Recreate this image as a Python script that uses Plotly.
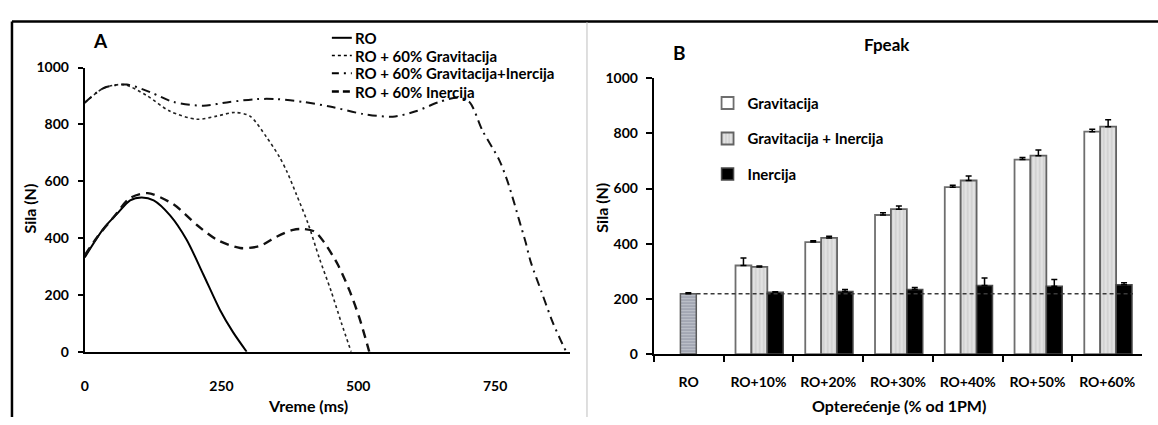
import plotly.graph_objects as go

W, H = 1158, 425

# ---------------- Panel A data (time curves) ----------------
ro_t = [0, 35, 59, 83, 104, 126, 156, 186, 217, 247, 271, 296]
ro_f = [332, 435, 485, 533, 543, 533, 480, 395, 271, 148, 69, 0]

grav_t = [0, 35, 72, 113, 156, 205, 241, 274, 302, 332, 356, 370, 387, 408, 429, 450, 469, 487]
grav_f = [876, 928, 940, 902, 846, 818, 829, 842, 829, 756, 685, 632, 553, 452, 328, 215, 102, 0]

gi_t = [0, 35, 77, 120, 162, 217, 265, 314, 350, 399, 448, 508, 563, 605, 648, 681, 703, 727,
        757, 772, 784, 794, 806, 815, 835, 855, 870, 880]
gi_f = [876, 928, 940, 913, 879, 866, 879, 889, 889, 879, 863, 837, 827, 846, 879, 894, 879, 778,
        677, 604, 530, 463, 384, 317, 210, 105, 40, 0]

in_t = [0, 22, 53, 83, 115, 162, 205, 241, 284, 320, 350, 381, 399, 420, 438, 463, 484, 502, 520]
in_f = [339, 401, 474, 541, 558, 519, 446, 395, 365, 372, 404, 429, 432, 423, 384, 305, 215, 119, 0]

curve_names = ["RO", "RO + 60% Gravitacija", "RO + 60% Gravitacija+Inercija", "RO + 60% Inercija"]
x_ticks_a = [0, 250, 500, 750]

# ---------------- Panel B data (Fpeak bars) ----------------
cats = ["RO", "RO+10%", "RO+20%", "RO+30%", "RO+40%", "RO+50%", "RO+60%"]
ro_val = [219]
ro_err = [3]
grav_val = [321, 406, 504, 605, 705, 806]
grav_err = [27, 5, 8, 7, 7, 9]
gi_val = [316, 421, 525, 629, 719, 824]
gi_err = [3, 6, 12, 16, 21, 25]
in_val = [224, 227, 234, 249, 246, 251]
in_err = [2, 7, 7, 27, 24, 8]
bar_names = ["Gravitacija", "Gravitacija + Inercija", "Inercija"]

FONT = "Lato"


def px(x):
    return x / W


def py(y):
    return 1 - y / H


fig = go.Figure()

# Panel A lines
line_styles = [
    dict(color="black", width=2, dash="solid"),
    dict(color="#222222", width=1.6, dash="dot"),
    dict(color="#111111", width=2, dash="9px,5px,2px,5px"),
    dict(color="#111111", width=2.4, dash="9px,6px"),
]
for t, f, name, ls in zip([ro_t, grav_t, gi_t, in_t], [ro_f, grav_f, gi_f, in_f], curve_names, line_styles):
    fig.add_trace(go.Scatter(x=t, y=f, mode="lines", name=name, showlegend=False,
                             line=dict(shape="spline", smoothing=0.8, **ls),
                             xaxis="x", yaxis="y"))

# Panel A legend (drawn compactly, as in the original)
leg_y = [30, 48.5, 67, 86]
leg_dash = ["solid", "dot", "7px,5px,2px,5px", "7px,4px"]
leg_w = [2, 1.6, 2, 2.4]
for name, yy, dsh, lw in zip(curve_names, leg_y, leg_dash, leg_w):
    fig.add_shape(type="line", xref="paper", yref="paper", x0=px(329), x1=px(349), y0=py(yy), y1=py(yy),
                  line=dict(color="black", width=lw, dash=dsh))
    fig.add_annotation(text=name, x=px(350), y=py(yy), xref="paper", yref="paper", showarrow=False,
                       xanchor="left", yanchor="middle",
                       font=dict(family=FONT, size=15, color="black", weight="bold"))

# Panel B bars
BW = 0.228
fig.add_trace(go.Bar(x=cats[:1], y=ro_val, width=BW, offset=-0.118, name="RO", showlegend=False,
                     marker=dict(color="#a3a7b3", line=dict(color="#5a5a5a", width=1.5),
                                 pattern=dict(shape="-", fgcolor="#d8dbe2", size=3, solidity=0.35)),
                     error_y=dict(type="data", array=ro_err, arrayminus=[0] * len(ro_err), symmetric=False,
                                  color="black", thickness=1.5, width=3),
                     xaxis="x2", yaxis="y2"))
bar_specs = [
    (grav_val, grav_err, -0.328, dict(color="white", line=dict(color="#6e6e6e", width=1.8))),
    (gi_val, gi_err, -0.100, dict(color="#e2e2e2", line=dict(color="#626262", width=1.8),
                                  pattern=dict(shape="|", fgcolor="#b0b0b0", size=4, solidity=0.3))),
    (in_val, in_err, 0.128, dict(color="black", line=dict(color="#4a4a4a", width=1.5))),
]
for i, ((vals, errs, off, mk), name) in enumerate(zip(bar_specs, bar_names)):
    fig.add_trace(go.Bar(x=cats[1:], y=vals, width=BW, offset=off, name=name, marker=mk,
                         legendgroup="g%d" % i,
                         error_y=dict(type="data", array=errs, arrayminus=[0] * len(errs), symmetric=False,
                                      color="black", thickness=1.5, width=3),
                         xaxis="x2", yaxis="y2", legend="legend2"))

tickfont = dict(family=FONT, size=14, color="black", weight="bold")

fig.update_layout(
    width=W, height=H,
    margin=dict(l=0, r=0, t=0, b=0),
    paper_bgcolor="white", plot_bgcolor="white",
    font=dict(family=FONT, size=14, color="black", weight="bold"),
    barmode="overlay",
    xaxis=dict(domain=[px(81), px(568)], range=[0, 887], tickvals=x_ticks_a, showline=True, linecolor="black",
               linewidth=2, ticks="", showgrid=False, zeroline=False, tickfont=tickfont, ticklabelstandoff=20,
               anchor="y"),
    yaxis=dict(domain=[py(357), py(61)], range=[0, 1000], dtick=200, showline=True, linecolor="black",
               linewidth=2, ticks="outside", ticklen=5, tickwidth=1.5, tickcolor="black", showgrid=False,
               zeroline=False, tickfont=tickfont, ticklabelstandoff=6, anchor="x"),
    xaxis2=dict(domain=[px(652), px(1142)], type="category", categoryorder="array", categoryarray=cats,
                range=[-0.5, 6.5], showline=True, linecolor="black", linewidth=2, ticks="outside",
                tickson="boundaries", ticklen=6, tickwidth=1.5, tickcolor="black", showgrid=False,
                zeroline=False, tickfont=tickfont, ticklabelstandoff=14, anchor="y2"),
    yaxis2=dict(domain=[py(359.5), py(72)], range=[0, 1000], dtick=200, showline=True, linecolor="black",
                linewidth=2, ticks="outside", ticklen=6, tickwidth=1.5, tickcolor="black", showgrid=False,
                zeroline=False, tickfont=tickfont, ticklabelstandoff=5, anchor="x2"),
    legend2=dict(x=px(706), y=py(81), xanchor="left", yanchor="top", bgcolor="rgba(0,0,0,0)",
                 font=dict(family=FONT, size=15, color="black", weight="bold"), borderwidth=0,
                 tracegroupgap=13),
)

# reference dashed line at RO level
fig.add_shape(type="line", xref="x2", yref="y2", x0=0.114, x1=6.37, y0=ro_val[0], y1=ro_val[0],
              line=dict(color="#3a3a3a", width=1.5, dash="4px,3px"))

# frame lines
fig.add_shape(type="line", xref="paper", yref="paper", x0=px(8), x1=1, y0=py(13), y1=py(13),
              line=dict(color="black", width=2.5))
fig.add_shape(type="line", xref="paper", yref="paper", x0=px(8), x1=px(8), y0=0, y1=py(13),
              line=dict(color="black", width=2.5))
fig.add_shape(type="line", xref="paper", yref="paper", x0=px(585), x1=px(585), y0=0, y1=py(14),
              line=dict(color="#d4d4d4", width=1.5))

ann = [
    ("A", 97, 33, 19, 0),
    ("B", 678, 45, 19, 0),
    ("Fpeak", 886, 37, 17, 0),
    ("Sila (N)", 26, 208, 16, -90),
    ("Vreme (ms)", 305, 413, 16, 0),
    ("Sila (N)", 600, 207, 16, -90),
    ("Opterećenje (% od 1PM)", 898, 413, 16, 0),
]
for text, x, y, size, ang in ann:
    fig.add_annotation(text=text, x=px(x), y=py(y), xref="paper", yref="paper", showarrow=False,
                       xanchor="center", yanchor="middle", textangle=ang,
                       font=dict(family=FONT, size=size, color="black", weight="bold"))

fig.write_html("out.html")
